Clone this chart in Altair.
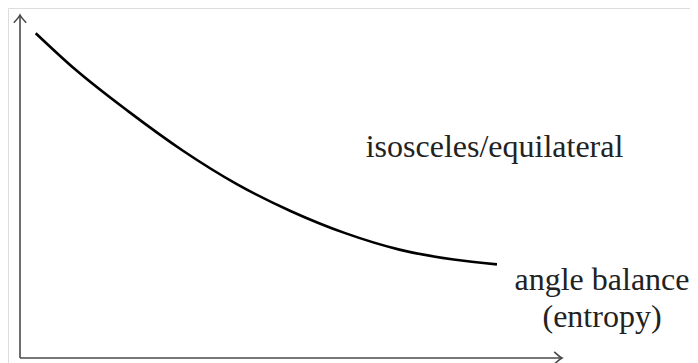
import altair as alt
import pandas as pd

# curve (normalized units: axis origin = 0, axis arrow tips = 1)
curve_x = [0.029, 0.10, 0.20, 0.30, 0.40, 0.50, 0.60, 0.70, 0.80, 0.88]
curve_y = [0.947, 0.844, 0.719, 0.605, 0.507, 0.428, 0.364, 0.316, 0.287, 0.273]

labels = ["isosceles/equilateral", "angle balance", "(entropy)"]

W, H = 682, 355
xs = alt.Scale(domain=[-0.02214, 1.23616], nice=False, zero=False)
ys = alt.Scale(domain=[-0.01458, 1.02041], nice=False, zero=False)

curve_df = pd.DataFrame({"x": curve_x, "y": curve_y})
axes_df = pd.DataFrame({"x": [0, 0], "y": [0, 0], "x2": [1.0, 0], "y2": [0, 1.0]})
xtip_df = pd.DataFrame({"x": [1.0], "y": [0.0]})
ytip_df = pd.DataFrame({"x": [0.0], "y": [1.0]})

ARROW = "M -1 -0.8 Q -0.3 -0.15 0 0 Q -0.3 0.15 -1 0.8"
AXC = "#4a4a4a"

curve = alt.Chart(curve_df).mark_line(color="black", strokeWidth=2.6, interpolate="monotone").encode(
    x=alt.X("x:Q", scale=xs, axis=None), y=alt.Y("y:Q", scale=ys, axis=None))

axes = alt.Chart(axes_df).mark_rule(color=AXC, strokeWidth=1.6).encode(
    x=alt.X("x:Q", scale=xs, axis=None), y=alt.Y("y:Q", scale=ys, axis=None), x2="x2:Q", y2="y2:Q")

xtip = alt.Chart(xtip_df).mark_point(shape=ARROW, filled=False, color=AXC, strokeWidth=1.6, size=240, opacity=1).encode(
    x=alt.X("x:Q", scale=xs, axis=None), y=alt.Y("y:Q", scale=ys, axis=None))
ytip = alt.Chart(ytip_df).mark_point(shape=ARROW, filled=False, color=AXC, strokeWidth=1.6, size=240, angle=270, opacity=1).encode(
    x=alt.X("x:Q", scale=xs, axis=None), y=alt.Y("y:Q", scale=ys, axis=None))

def txt(s, x, y):
    return alt.Chart(pd.DataFrame({"t": [s]})).mark_text(
        font="Liberation Serif", fontSize=32, color="#222222", align="center", baseline="alphabetic"
    ).encode(text="t:N", x=alt.value(x), y=alt.value(y))

t1 = txt(labels[0], 486.5, 149)
t2 = txt(labels[1], 594, 282)
t3 = txt(labels[2], 594, 319)

chart = alt.layer(axes, xtip, ytip, curve, t1, t2, t3).properties(
    width=W, height=H, padding=0, autosize=alt.AutoSizeParams(type="none")
).configure_view(stroke=None).configure(background="white")

chart.save("out.html", embed_options={"renderer": "svg", "actions": False})
